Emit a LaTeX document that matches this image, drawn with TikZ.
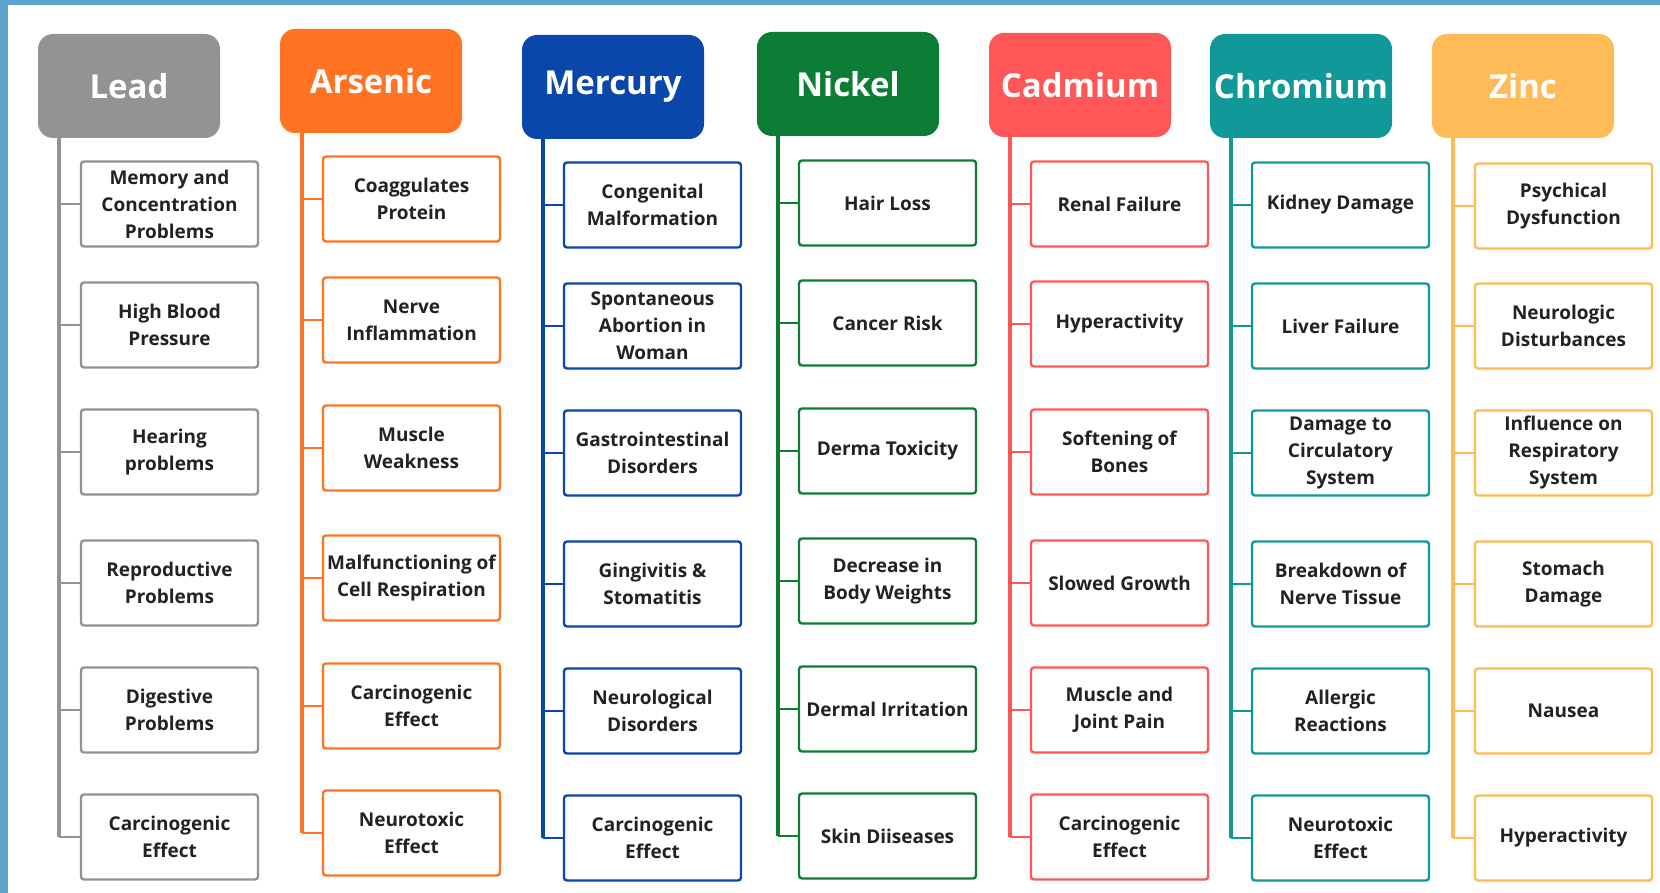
\documentclass[tikz,border=0pt]{standalone}
\usepackage{fontspec}
\setmainfont{Open Sans}
\usetikzlibrary{positioning}

\definecolor{framebg}{HTML}{5BA3CC}
\definecolor{textdark}{HTML}{222222}
\definecolor{leadgray}{HTML}{939393}
\definecolor{arsenicorange}{HTML}{FF7322}
\definecolor{mercuryblue}{HTML}{0A47AA}
\definecolor{nickelgreen}{HTML}{0B7D35}
\definecolor{cadmiumred}{HTML}{FF5757}
\definecolor{chromiumteal}{HTML}{11999A}
\definecolor{zincyellow}{HTML}{FFBB57}

\tikzset{
  metal/.style={fill=#1, rounded corners=7.5pt, minimum width=91pt, minimum height=52pt,
    inner sep=0pt, text=white, font=\bfseries\fontsize{16.5}{20}\selectfont},
  effect/.style={draw=#1, fill=white, line width=1.2pt, rounded corners=1.5pt,
    minimum width=88.5pt, minimum height=42.5pt, inner xsep=1pt, inner ysep=0pt,
    align=center, text=textdark, font=\bfseries\fontsize{9.5}{13.5}\selectfont},
  trunk/.style={line width=2pt},
  twig/.style={line width=1pt}
}

\begin{document}
\begin{tikzpicture}[x=0.5pt, y=-0.5pt]
      \fill[framebg] (0,0) rectangle (1660,893);
      \fill[white] (8,5) rectangle (1660,893);
      \useasboundingbox (0,0) rectangle (1660,893);

      % headers
      \node[metal=leadgray] (lead) at (129,86) {Lead};
      \node[metal=arsenicorange] (arsenic) at (371,81) {Arsenic};
      \node[metal=mercuryblue] (mercury) at (613,87) {Mercury};
      \node[metal=nickelgreen] (nickel) at (848,84) {Nickel};
      \node[metal=cadmiumred] (cadmium) at (1080,85) {Cadmium};
      \node[metal=chromiumteal] (chromium) at (1301,86) {Chromium};
      \node[metal=zincyellow] (zinc) at (1523,86) {Zinc};

      % trunk positions
      \coordinate (leadbar) at (59,0);
      \coordinate (arsenicbar) at (302,0);
      \coordinate (mercurybar) at (543,0);
      \coordinate (nickelbar) at (778,0);
      \coordinate (cadmiumbar) at (1010,0);
      \coordinate (chromiumbar) at (1231,0);
      \coordinate (zincbar) at (1453,0);

      % lead
      \node[effect=leadgray] (lead1) at (169.5,204) {Memory and\\Concentration\\Problems};
      \node[effect=leadgray] (lead2) at (169.5,325) {High Blood\\Pressure};
      \node[effect=leadgray] (lead3) at (169.5,452) {Hearing\\problems};
      \node[effect=leadgray] (lead4) at (169.5,583) {Reproductive\\Problems};
      \node[effect=leadgray] (lead5) at (169.5,710) {Digestive\\Problems};
      \node[effect=leadgray] (lead6) at (169.5,837) {Carcinogenic\\Effect};

      % arsenic
      \node[effect=arsenicorange] (arsenic1) at (411.5,199) {Coaggulates\\Protein};
      \node[effect=arsenicorange] (arsenic2) at (411.5,320) {Nerve\\Inflammation};
      \node[effect=arsenicorange] (arsenic3) at (411.5,448) {Muscle\\Weakness};
      \node[effect=arsenicorange] (arsenic4) at (411.5,578) {Malfunctioning of\\Cell Respiration};
      \node[effect=arsenicorange] (arsenic5) at (411.5,706) {Carcinogenic\\Effect};
      \node[effect=arsenicorange] (arsenic6) at (411.5,833) {Neurotoxic\\Effect};

      % mercury
      \node[effect=mercuryblue] (mercury1) at (652.5,205) {Congenital\\Malformation};
      \node[effect=mercuryblue] (mercury2) at (652.5,326) {Spontaneous\\Abortion in\\Woman};
      \node[effect=mercuryblue] (mercury3) at (652.5,453) {Gastrointestinal\\Disorders};
      \node[effect=mercuryblue] (mercury4) at (652.5,584) {Gingivitis \&\\Stomatitis};
      \node[effect=mercuryblue] (mercury5) at (652.5,711) {Neurological\\Disorders};
      \node[effect=mercuryblue] (mercury6) at (652.5,838) {Carcinogenic\\Effect};

      % nickel
      \node[effect=nickelgreen] (nickel1) at (887.5,203) {Hair Loss};
      \node[effect=nickelgreen] (nickel2) at (887.5,323) {Cancer Risk};
      \node[effect=nickelgreen] (nickel3) at (887.5,451) {Derma Toxicity};
      \node[effect=nickelgreen] (nickel4) at (887.5,581) {Decrease in\\Body Weights};
      \node[effect=nickelgreen] (nickel5) at (887.5,709) {Dermal Irritation};
      \node[effect=nickelgreen] (nickel6) at (887.5,836) {Skin Diiseases};

      % cadmium
      \node[effect=cadmiumred] (cadmium1) at (1119.5,204) {Renal Failure};
      \node[effect=cadmiumred] (cadmium2) at (1119.5,324) {Hyperactivity};
      \node[effect=cadmiumred] (cadmium3) at (1119.5,452) {Softening of\\Bones};
      \node[effect=cadmiumred] (cadmium4) at (1119.5,583) {Slowed Growth};
      \node[effect=cadmiumred] (cadmium5) at (1119.5,710) {Muscle and\\Joint Pain};
      \node[effect=cadmiumred] (cadmium6) at (1119.5,837) {Carcinogenic\\Effect};

      % chromium
      \node[effect=chromiumteal] (chromium1) at (1340.5,205) {Kidney Damage};
      \node[effect=chromiumteal] (chromium2) at (1340.5,326) {Liver Failure};
      \node[effect=chromiumteal] (chromium3) at (1340.5,453) {Damage to\\Circulatory\\System};
      \node[effect=chromiumteal] (chromium4) at (1340.5,584) {Breakdown of\\Nerve Tissue};
      \node[effect=chromiumteal] (chromium5) at (1340.5,711) {Allergic\\Reactions};
      \node[effect=chromiumteal] (chromium6) at (1340.5,838) {Neurotoxic\\Effect};

      % zinc
      \node[effect=zincyellow] (zinc1) at (1563.5,206) {Psychical\\Dysfunction};
      \node[effect=zincyellow] (zinc2) at (1563.5,326) {Neurologic\\Disturbances};
      \node[effect=zincyellow] (zinc3) at (1563.5,453) {Influence on\\Respiratory\\System};
      \node[effect=zincyellow] (zinc4) at (1563.5,584) {Stomach\\Damage};
      \node[effect=zincyellow] (zinc5) at (1563.5,711) {Nausea};
      \node[effect=zincyellow] (zinc6) at (1563.5,838) {Hyperactivity};

      % connectors
      \foreach \m/\c in {lead/leadgray, arsenic/arsenicorange, mercury/mercuryblue,
          nickel/nickelgreen, cadmium/cadmiumred, chromium/chromiumteal, zinc/zincyellow} {
        \draw[trunk, \c] (\m.south -| \m bar) -- (\m bar |- \m6);
        \foreach \i in {1,...,6}
          \draw[twig, \c] (\m bar |- \m\i) -- (\m\i.west);
      }
    \end{tikzpicture}
\end{document}
